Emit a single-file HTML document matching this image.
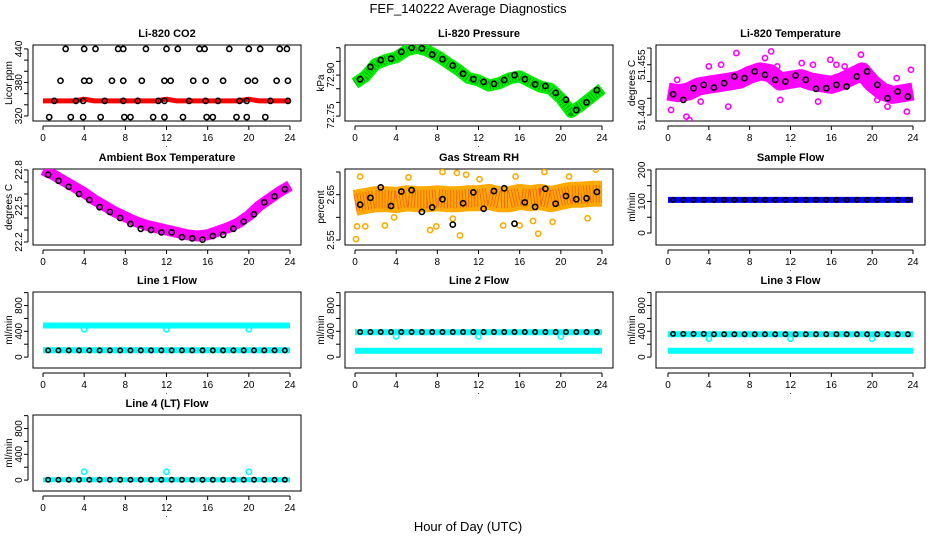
<!DOCTYPE html>
<html><head><meta charset="utf-8">
<style>
html,body{margin:0;padding:0;background:#fff;}
svg{display:block;font-family:"Liberation Sans",sans-serif;}
</style></head>
<body>
<svg id="c" width="936" height="540" viewBox="0 0 936 540" xmlns="http://www.w3.org/2000/svg">
<text x="468" y="13" text-anchor="middle" font-size="13">FEF_140222  Average Diagnostics</text>
<text x="468" y="531" text-anchor="middle" font-size="13">Hour of Day (UTC)</text>
</svg>
<script>
// ---- data ----
const hours = [0,1,2,3,4,5,6,7,8,9,10,11,12,13,14,15,16,17,18,19,20,21,22,23,24];
const avgHours = [0.5,1.5,2.5,3.5,4.5,5.5,6.5,7.5,8.5,9.5,10.5,11.5,12.5,13.5,14.5,15.5,16.5,17.5,18.5,19.5,20.5,21.5,22.5,23.5];
const xTicks = [0,4,8,12,16,20,24];

const co2Raw = [347,347,347,347,350,347,347,347,347,347,347,347,350,347,347,347,347,347,347,347,350,347,347,347,347];
const co2AvgHours = [2.2,4,5.1,7.3,7.8,10,12,13.1,15.2,15.7,18.1,20,21.1,23,23.7,1.7,4,4.5,6.7,7.8,9.6,11.8,12.4,14.6,15.8,17.5,19.9,20.6,22.7,23.8,1.1,3.2,3.9,6,7.8,9.2,11.2,11.8,14.2,15.8,17,19.1,19.8,22.1,23.8,0.6,2.7,3.9,5.6,7.9,8.5,10.7,11.8,13.6,15.9,16.5,18.8,19.8,21.6];
const co2Avg = [440,440,440,440,440,440,440,440,440,440,440,440,440,440,440,383,383,383,383,383,383,383,383,383,383,383,383,383,383,383,347,347,347,347,347,347,347,347,347,347,347,347,347,347,347,318,318,318,318,318,318,318,318,318,318,318,318,318,318];

const presRaw = [72.870,72.895,72.940,72.955,72.965,72.990,73.000,72.990,72.970,72.945,72.920,72.890,72.880,72.862,72.870,72.888,72.895,72.876,72.858,72.850,72.815,72.765,72.790,72.820,72.850];
const presAvg = [72.885,72.930,72.955,72.960,72.985,73.000,72.998,72.975,72.958,72.935,72.905,72.885,72.875,72.868,72.882,72.900,72.885,72.866,72.860,72.835,72.810,72.772,72.800,72.845];

const tempRaw = [51.4470,51.4465,51.4470,51.4485,51.4490,51.4495,51.4500,51.4505,51.4520,51.4530,51.4525,51.4500,51.4505,51.4510,51.4500,51.4495,51.4490,51.4500,51.4515,51.4530,51.4495,51.4470,51.4460,51.4465,51.4470];
const tempAvg = [51.4462,51.4445,51.4480,51.4490,51.4482,51.4495,51.4515,51.4510,51.4530,51.4520,51.4505,51.4500,51.4518,51.4505,51.4478,51.4480,51.4490,51.4485,51.4515,51.4530,51.4490,51.4450,51.4470,51.4455];
const tempOutHours = [0.3,1.8,2.1,3.2,4.0,5.9,6.7,8.7,9.5,10.1,11.0,12.6,13.1,14.2,14.7,16.5,17.3,18.9,19.3,21.5,22.4,23.4,23.8,0.9,5.2,10.7,15.9,20.5];
const tempOut = [51.4415,51.4395,51.4385,51.4440,51.4545,51.4425,51.4585,51.4545,51.4570,51.4590,51.4445,51.4500,51.4555,51.4550,51.4440,51.4550,51.4545,51.4580,51.4545,51.4425,51.4510,51.4410,51.4535,51.4505,51.4550,51.4545,51.4565,51.4445];

const ambRaw = [22.80,22.76,22.71,22.66,22.61,22.55,22.50,22.45,22.41,22.37,22.34,22.32,22.30,22.28,22.26,22.25,22.26,22.29,22.32,22.36,22.42,22.50,22.56,22.62,22.67];
const ambAvg = [22.76,22.71,22.66,22.60,22.55,22.49,22.45,22.40,22.35,22.31,22.30,22.28,22.28,22.24,22.23,22.22,22.25,22.26,22.31,22.37,22.43,22.53,22.58,22.64];

const rhRaw = [2.632,2.636,2.640,2.640,2.638,2.642,2.640,2.640,2.642,2.640,2.640,2.642,2.642,2.645,2.640,2.640,2.645,2.642,2.645,2.640,2.645,2.650,2.650,2.652,2.652];
const rhAvg = [2.628,2.643,2.666,2.625,2.657,2.660,2.612,2.622,2.640,2.584,2.631,2.655,2.619,2.658,2.664,2.586,2.633,2.623,2.663,2.630,2.647,2.640,2.642,2.656];
const rhOutHours = [0.1,0.2,1.0,2.9,3.8,7.3,7.9,8.5,9.9,10.2,10.8,14.4,15.6,16.0,17.3,17.8,18.4,19.2,22.6,23.4,0.5,5.2,9.5,12.1,20.8];
const rhOut = [2.552,2.580,2.580,2.582,2.600,2.572,2.580,2.700,2.698,2.560,2.694,2.582,2.690,2.582,2.592,2.564,2.700,2.590,2.598,2.705,2.690,2.688,2.597,2.684,2.690];

const sampleRaw = [105,105,105,105,105,105,105,105,105,105,105,105,105,105,105,105,105,105,105,105,105,105,105,105,105];
const sampleAvg = [105,105,105,105,105,105,105,105,105,105,105,105,105,105,105,105,105,105,105,105,105,105,105,105];

const l1Hi = [490,490,490,490,490,490,490,490,490,490,490,490,490,490,490,490,490,490,490,490,490,490,490,490,490];
const l1Lo = [105,105,105,105,105,105,105,105,105,105,105,105,105,105,105,105,105,105,105,105,105,105,105,105,105];
const l1Avg = [105,105,105,105,105,105,105,105,105,105,105,105,105,105,105,105,105,105,105,105,105,105,105,105];
const l2Hi = [385,385,385,385,385,385,385,385,385,385,385,385,385,385,385,385,385,385,385,385,385,385,385,385,385];
const l2Lo = [100,100,100,100,100,100,100,100,100,100,100,100,100,100,100,100,100,100,100,100,100,100,100,100,100];
const l2Avg = [390,390,390,390,390,390,390,390,390,390,390,390,390,390,390,390,390,390,390,390,390,390,390,390];
const l3Hi = [355,355,355,355,355,355,355,355,355,355,355,355,355,355,355,355,355,355,355,355,355,355,355,355,355];
const l3Lo = [100,100,100,100,100,100,100,100,100,100,100,100,100,100,100,100,100,100,100,100,100,100,100,100,100];
const l3Avg = [360,360,360,360,355,355,355,355,355,355,355,355,355,355,355,355,355,355,355,355,355,355,355,355];
const l4Lo = [5,5,5,5,5,5,5,5,5,5,5,5,5,5,5,5,5,5,5,5,5,5,5,5,5];
const l4Avg = [5,5,5,5,5,5,5,5,5,5,5,5,5,5,5,5,5,5,5,5,5,5,5,5];
const dipHours = [4,12,20];
const l1Dip = [430,430,430];
const l2Dip = [320,320,320];
const l3Dip = [285,285,285];
const l4Dip = [130,130,130];

// ---- drawing ----
const svg = document.getElementById('c');
const NS = 'http://www.w3.org/2000/svg';
const cols = [{l:33,r:301,x0:43,x24:290},{l:345,r:613,x0:355,x24:602},{l:656,r:925,x0:668,x24:913}];
const rows = [45,169,292,415];
const H = 76;
function mk(tag, attrs, parent){
  const e = document.createElementNS(NS, tag);
  for (const k in attrs) e.setAttribute(k, attrs[k]);
  (parent||svg).appendChild(e);
  return e;
}
function panel(o){
  const c = cols[o.col], top = rows[o.row], bot = top + H;
  const g = mk('g', {});
  
  
  const xs = t => c.x0 + (c.x24 - c.x0) * t / 24;
  const ys = v => bot - (v - o.yb) / (o.yt - o.yb) * H;
  const box = mk('rect', {x:c.l, y:top, width:c.r-c.l, height:H, fill:'none', stroke:'#000', 'stroke-width':1}, g);
  
  
  const tt = mk('text', {x:(c.l+c.r)/2, y:top-8, 'text-anchor':'middle', 'font-size':11, 'font-weight':'bold'}, g);
  tt.textContent = o.title;
  
  
  const yl = mk('text', {x:0, y:0, 'text-anchor':'middle', 'font-size':10, transform:`translate(${c.l-21},${top+H/2}) rotate(-90)`}, g);
  yl.textContent = o.ylab;
  
  
  const xa = mk('g', {}, g);
  
  
  mk('line', {x1:xs(0), x2:xs(24), y1:bot+5, y2:bot+5, stroke:'#000'}, xa);
  xTicks.forEach(t => {
    mk('line', {x1:xs(t), x2:xs(t), y1:bot+5, y2:bot+9, stroke:'#000'}, xa);
    const tx = mk('text', {x:xs(t), y:bot+20, 'text-anchor':'middle', 'font-size':10}, xa);
    tx.textContent = t;
    
    
  });
  const dot = mk('text', {x:xs(12), y:bot+26, 'text-anchor':'middle', 'font-size':8}, xa);
  dot.textContent = '.';
  const ya = mk('g', {}, g);
  
  
  mk('line', {x1:c.l-5, x2:c.l-5, y1:ys(o.ticks[0]), y2:ys(o.ticks[o.ticks.length-1]), stroke:'#000'}, ya);
  o.ticks.forEach(v => mk('line', {x1:c.l-9, x2:c.l-5, y1:ys(v), y2:ys(v), stroke:'#000'}, ya));
  o.labels.forEach(v => {
    const tx = mk('text', {x:0, y:0, 'text-anchor':'middle', 'font-size':10, transform:`translate(${c.l-11},${ys(v)}) rotate(-90)`}, ya);
    tx.textContent = o.fmt ? v.toFixed(o.fmt) : v;
    
    
  });
  const cl = 'cl' + o.col + o.row;
  const cp = mk('clipPath', {id:cl}, g);
  mk('rect', {x:c.l, y:top, width:c.r-c.l, height:H}, cp);
  const d = mk('g', {'clip-path':`url(#${cl})`}, g);
  
  
  (o.bands||[]).forEach(b => {
    const pts = b.xs.map((t,i) => xs(t).toFixed(1)+','+ys(b.ys[i]).toFixed(1)).join(' ');
    const pl = mk('polyline', {points:pts, fill:'none', stroke:b.color, 'stroke-width':b.w, 'stroke-linejoin':'round', 'stroke-linecap':'butt'}, d);
    
    
    if (b.dots) {
      const pl2 = mk('polyline', {points:pts, fill:'none', stroke:b.dots, 'stroke-width':b.w*0.7, 'stroke-dasharray':'0.8 2.2', 'stroke-linejoin':'round', 'stroke-opacity':0.6}, d);
      
      
    }
  });
  (o.pts||[]).forEach(p => {
    p.xs.forEach((t,i) => {
      const ci = mk('circle', {cx:xs(t), cy:ys(p.ys[i]), r:p.r||2.6, fill:'none', stroke:p.color, 'stroke-width':p.sw||1.6}, d);
      
      
    });
  });
}

const flowTicks = [0,200,400,600,800,1000], flowLabels = [0,400,800];
panel({name:'co2-panel', col:0,row:0,title:'Li-820 CO2',ylab:'Licor ppm',yt:447,yb:311,ticks:[320,340,360,380,400,420,440],labels:[320,380,440],
  bands:[{name:'co2-raw-band',xs:hours,ys:co2Raw,color:'#f00',w:5}],
  pts:[{name:'co2-avg-point',xs:co2AvgHours,ys:co2Avg,color:'#000'}]});
panel({name:'pressure-panel', col:1,row:0,title:'Li-820 Pressure',ylab:'kPa',yt:73.01,yb:72.732,ticks:[72.75,72.8,72.85,72.9,72.95,73.0],labels:[72.75,72.9],fmt:2,
  bands:[{name:'pressure-raw-band',xs:hours,ys:presRaw,color:'#0e0',w:12,dots:'#060'}],
  pts:[{name:'pressure-avg-point',xs:avgHours,ys:presAvg,color:'#000'}]});
panel({name:'li820-temp-panel', col:2,row:0,title:'Li-820 Temperature',ylab:'degrees C',yt:51.4609,yb:51.4382,ticks:[51.44,51.445,51.45,51.455,51.46],labels:[51.44,51.455],fmt:3,
  bands:[{name:'temp-raw-band',xs:hours,ys:tempRaw,color:'#f0f',w:18}],
  pts:[{name:'temp-raw-point',xs:tempOutHours,ys:tempOut,color:'#f0f'},{name:'temp-avg-point',xs:avgHours,ys:tempAvg,color:'#000'}]});
panel({name:'ambient-temp-panel', col:0,row:1,title:'Ambient Box Temperature',ylab:'degrees C',yt:22.808,yb:22.175,ticks:[22.2,22.3,22.4,22.5,22.6,22.7,22.8],labels:[22.2,22.5,22.8],fmt:1,
  bands:[{name:'ambient-raw-band',xs:hours,ys:ambRaw,color:'#f0f',w:11}],
  pts:[{name:'ambient-avg-point',xs:avgHours,ys:ambAvg,color:'#000'}]});
panel({name:'rh-panel', col:1,row:1,title:'Gas Stream RH',ylab:'percent',yt:2.7066,yb:2.539,ticks:[2.55,2.6,2.65,2.7],labels:[2.55,2.65],fmt:2,
  bands:[{name:'rh-raw-band',xs:hours,ys:rhRaw,color:'#fa0',w:26,dots:'#e22'}],
  pts:[{name:'rh-raw-point',xs:rhOutHours,ys:rhOut,color:'#fa0'},{name:'rh-avg-point',xs:avgHours,ys:rhAvg,color:'#000'}]});
panel({name:'sample-flow-panel', col:2,row:1,title:'Sample Flow',ylab:'ml/min',yt:203,yb:-38,ticks:[0,50,100,150,200],labels:[0,100,200],
  bands:[{name:'sample-raw-band',xs:hours,ys:sampleRaw,color:'#00f',w:6}],
  pts:[{name:'sample-avg-point',xs:avgHours,ys:sampleAvg,color:'#000',r:2.2}]});
panel({name:'line1-flow-panel', col:0,row:2,title:'Line 1 Flow',ylab:'ml/min',yt:1010,yb:-169,ticks:flowTicks,labels:flowLabels,
  bands:[{name:'line1-high-band',xs:hours,ys:l1Hi,color:'#0ff',w:6},{name:'line1-low-band',xs:hours,ys:l1Lo,color:'#0ff',w:6}],
  pts:[{name:'line1-dip-point',xs:dipHours,ys:l1Dip,color:'#0ff'},{name:'line1-avg-point',xs:avgHours,ys:l1Avg,color:'#000',r:2.2}]});
panel({name:'line2-flow-panel', col:1,row:2,title:'Line 2 Flow',ylab:'ml/min',yt:1010,yb:-169,ticks:flowTicks,labels:flowLabels,
  bands:[{name:'line2-high-band',xs:hours,ys:l2Hi,color:'#0ff',w:6},{name:'line2-low-band',xs:hours,ys:l2Lo,color:'#0ff',w:6}],
  pts:[{name:'line2-dip-point',xs:dipHours,ys:l2Dip,color:'#0ff'},{name:'line2-avg-point',xs:avgHours,ys:l2Avg,color:'#000',r:2.2}]});
panel({name:'line3-flow-panel', col:2,row:2,title:'Line 3 Flow',ylab:'ml/min',yt:1010,yb:-169,ticks:flowTicks,labels:flowLabels,
  bands:[{name:'line3-high-band',xs:hours,ys:l3Hi,color:'#0ff',w:6},{name:'line3-low-band',xs:hours,ys:l3Lo,color:'#0ff',w:6}],
  pts:[{name:'line3-dip-point',xs:dipHours,ys:l3Dip,color:'#0ff'},{name:'line3-avg-point',xs:avgHours,ys:l3Avg,color:'#000',r:2.2}]});
panel({name:'line4-flow-panel', col:0,row:3,title:'Line 4 (LT) Flow',ylab:'ml/min',yt:1010,yb:-169,ticks:flowTicks,labels:flowLabels,
  bands:[{name:'line4-band',xs:hours,ys:l4Lo,color:'#0ff',w:5}],
  pts:[{name:'line4-dip-point',xs:dipHours,ys:l4Dip,color:'#0ff'},{name:'line4-avg-point',xs:avgHours,ys:l4Avg,color:'#000',r:2.2}]});
</script>
</body></html>
